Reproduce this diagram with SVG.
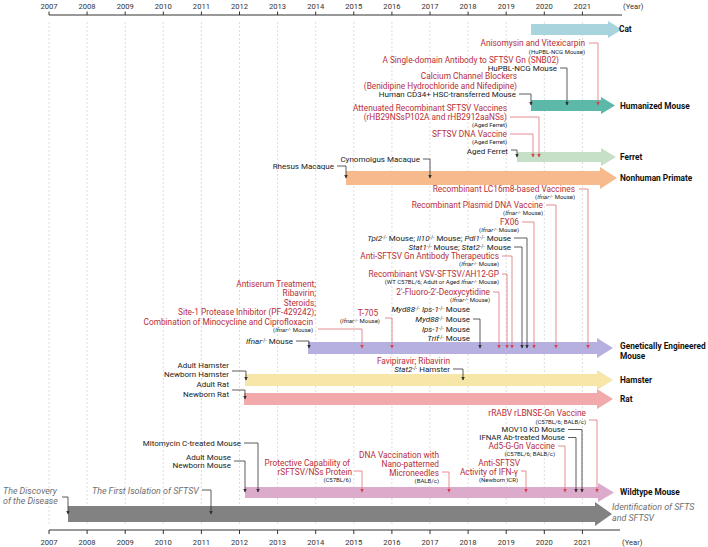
<svg xmlns="http://www.w3.org/2000/svg" width="708" height="547" viewBox="0 0 708 547">
<style>
text{font-family:Roboto,"Liberation Sans",sans-serif;font-size:8px;fill:#222}
.r{fill:#b82e3a;font-size:8.3px}
.s{font-size:6px;fill:#222}
.lb{font-weight:bold;font-size:8.3px;fill:#111}
.g{fill:#6e6e6e;font-style:italic;font-size:8.9px}
.yr{font-size:7.6px;fill:#333;text-anchor:middle}
.i{font-style:italic}
.sp{font-size:5px}
.sps{font-size:4.2px}
.e{text-anchor:end}
.cb{stroke:#333;stroke-width:0.8;fill:none;marker-end:url(#ab)}
.cr{stroke:#e0707a;stroke-width:0.8;fill:none;marker-end:url(#ar)}
.grid{stroke:#cfcfcf;stroke-width:0.7;stroke-dasharray:2 2}
.ax{stroke:#333;stroke-width:1;fill:none}
</style>
<defs>
<marker id="ab" viewBox="0 0 6 6" refX="5" refY="3" markerUnits="userSpaceOnUse" markerWidth="3.5" markerHeight="3.5" orient="auto"><path d="M0,0L6,3L0,6z" fill="#333"/></marker>
<marker id="ar" viewBox="0 0 6 6" refX="5" refY="3" markerUnits="userSpaceOnUse" markerWidth="3.5" markerHeight="3.5" orient="auto"><path d="M0,0L6,3L0,6z" fill="#d9404c"/></marker>
</defs>
<rect width="708" height="547" fill="#fff"/>
<g id="grid">
<path class="grid" d="M49,22V524M87.1,22V524M125.2,22V524M163.3,22V524M201.4,22V524M239.5,22V524M277.6,22V524M315.7,22V524M353.8,22V524M391.9,22V524M430,22V524M468.1,22V524M506.2,22V524M544.3,22V524M582.4,22V524"/>
</g>
<g id="axis-top">
<path class="ax" d="M49,15H622M49,11.5V15M87.1,11.5V15M125.2,11.5V15M163.3,11.5V15M201.4,11.5V15M239.5,11.5V15M277.6,11.5V15M315.7,11.5V15M353.8,11.5V15M391.9,11.5V15M430,11.5V15M468.1,11.5V15M506.2,11.5V15M544.3,11.5V15M582.4,11.5V15"/>
<text class="yr" x="49" y="9">2007</text><text class="yr" x="87.1" y="9">2008</text><text class="yr" x="125.2" y="9">2009</text><text class="yr" x="163.3" y="9">2010</text><text class="yr" x="201.4" y="9">2011</text><text class="yr" x="239.5" y="9">2012</text><text class="yr" x="277.6" y="9">2013</text><text class="yr" x="315.7" y="9">2014</text><text class="yr" x="353.8" y="9">2015</text><text class="yr" x="391.9" y="9">2016</text><text class="yr" x="430" y="9">2017</text><text class="yr" x="468.1" y="9">2018</text><text class="yr" x="506.2" y="9">2019</text><text class="yr" x="544.3" y="9">2020</text><text class="yr" x="582.4" y="9">2021</text>
<text x="623" y="9" style="font-size:7.6px;fill:#333">(Year)</text>
</g>
<g id="axis-bottom">
<path class="ax" d="M49,530H620M49,530V534M87.1,530V534M125.2,530V534M163.3,530V534M201.4,530V534M239.5,530V534M277.6,530V534M315.7,530V534M353.8,530V534M391.9,530V534M430,530V534M468.1,530V534M506.2,530V534M544.3,530V534M582.4,530V534"/>
<text class="yr" x="49" y="545">2007</text><text class="yr" x="87.1" y="545">2008</text><text class="yr" x="125.2" y="545">2009</text><text class="yr" x="163.3" y="545">2010</text><text class="yr" x="201.4" y="545">2011</text><text class="yr" x="239.5" y="545">2012</text><text class="yr" x="277.6" y="545">2013</text><text class="yr" x="315.7" y="545">2014</text><text class="yr" x="353.8" y="545">2015</text><text class="yr" x="391.9" y="545">2016</text><text class="yr" x="430" y="545">2017</text><text class="yr" x="468.1" y="545">2018</text><text class="yr" x="506.2" y="545">2019</text><text class="yr" x="544.3" y="545">2020</text><text class="yr" x="582.4" y="545">2021</text>
<text x="622" y="545" style="font-size:7.6px;fill:#333">(Year)</text>
</g>
<g id="cat"><path d="M531,24H608V21L622,29.5L608,38V35H531Z" fill="#a8d4de"/><text class="lb" x="619" y="32">Cat</text></g>
<g id="humanized"><path d="M531,100H601V97L615,105.5L601,114V111H531Z" fill="#5cb8a8"/><text class="lb" x="620" y="109">Humanized Mouse</text></g>
<g id="ferret"><path d="M517,152H601V148L616,157L601,166V162H517Z" fill="#c6e0c8"/><text class="lb" x="620" y="160">Ferret</text></g>
<g id="nhp"><path d="M346,171H600V167L617,178L600,189V185H346Z" fill="#f6ba8c"/><text class="lb" x="620" y="181">Nonhuman Primate</text></g>
<g id="gem"><path d="M308,342H597V338L613,348L597,358V354H308Z" fill="#b5b0e0"/><text class="lb" x="620" y="349">Genetically Engineered</text><text class="lb" x="620" y="359">Mouse</text></g>
<g id="hamster"><path d="M245,374H597V370L613,380L597,390V386H245Z" fill="#f6e6a8"/><text class="lb" x="620" y="383">Hamster</text></g>
<g id="rat"><path d="M244,393H597V389L613,399L597,409V405H244Z" fill="#f1a9ab"/><text class="lb" x="620" y="402">Rat</text></g>
<g id="wildtype"><path d="M245,487H598V483L614,492.5L598,502V498H245Z" fill="#dcaacb"/><text class="lb" x="620" y="495">Wildtype Mouse</text></g>
<g id="identification"><path d="M68,506H595V502L612,514L595,526V522H68Z" fill="#828282"/><text class="g" x="612" y="510">Identification of SFTS</text><text class="g" x="612" y="521">and SFTSV</text></g>

<g id="labels-humanized">
<text class="r e" x="585" y="46">Anisomysin and Vitexicarpin</text>
<text class="s e" x="585" y="54">(HuPBL-NCG Mouse)</text>
<text class="r e" x="559" y="63">A Single-domain Antibody to SFTSV Gn (SNB02)</text>
<text class="e" x="557" y="71">HuPBL-NCG Mouse</text>
<text class="r e" x="517" y="79">Calcium Channel Blockers</text>
<text class="r e" x="517" y="89">(Benidipine Hydrochloride and Nifedipine)</text>
<text class="e" x="516" y="97">Human CD34+ HSC-transferred Mouse</text>
</g>
<g id="labels-ferret">
<text class="r e" x="507" y="111">Attenuated Recombinant SFTSV Vaccines</text>
<text class="r e" x="507" y="120">(rHB29NSsP102A and rHB2912aaNSs)</text>
<text class="s e" x="507" y="127">(Aged Ferret)</text>
<text class="r e" x="507" y="137">SFTSV DNA Vaccine</text>
<text class="s e" x="507" y="143.5">(Aged Ferret)</text>
<text class="e" x="508" y="154">Aged Ferret</text>
</g>
<g id="labels-nhp">
<text class="e" x="420" y="162">Cynomolgus Macaque</text>
<text class="e" x="334" y="169">Rhesus Macaque</text>
</g>
<g id="labels-gem">
<text class="r e" x="575" y="192">Recombinant LC16m8-based Vaccines</text>
<text class="s e" x="575" y="199">(<tspan class="i">Ifnar</tspan><tspan class="sps" dy="-1.5">-/-</tspan><tspan dy="1.5"> Mouse)</tspan></text>
<text class="r e" x="543" y="208">Recombinant Plasmid DNA Vaccine</text>
<text class="s e" x="543" y="215">(<tspan class="i">Ifnar</tspan><tspan class="sps" dy="-1.5">-/-</tspan><tspan dy="1.5"> Mouse)</tspan></text>
<text class="r e" x="519" y="225">FX06</text>
<text class="s e" x="519" y="232">(<tspan class="i">Ifnar</tspan><tspan class="sps" dy="-1.5">-/-</tspan><tspan dy="1.5"> Mouse)</tspan></text>
<text class="e" x="511" y="241"><tspan class="i">Tpi2</tspan><tspan class="sp" dy="-2.5">-/-</tspan><tspan dy="2.5"> Mouse; </tspan><tspan class="i">Il10</tspan><tspan class="sp" dy="-2.5">-/-</tspan><tspan dy="2.5"> Mouse; </tspan><tspan class="i">Pdl1</tspan><tspan class="sp" dy="-2.5">-/-</tspan><tspan dy="2.5"> Mouse</tspan></text>
<text class="e" x="511" y="250"><tspan class="i">Stat1</tspan><tspan class="sp" dy="-2.5">-/-</tspan><tspan dy="2.5"> Mouse; </tspan><tspan class="i">Stat2</tspan><tspan class="sp" dy="-2.5">-/-</tspan><tspan dy="2.5"> Mouse</tspan></text>
<text class="r e" x="499" y="259">Anti-SFTSV Gn Antibody Therapeutics</text>
<text class="s e" x="499" y="266">(<tspan class="i">Ifnar</tspan><tspan class="sps" dy="-1.5">-/-</tspan><tspan dy="1.5"> Mouse)</tspan></text>
<text class="r e" x="499" y="277">Recombinant VSV-SFTSV/AH12-GP</text>
<text class="s e" x="499" y="284">(WT C57BL/6;  Adult or Aged <tspan class="i">Ifnar</tspan><tspan class="sps" dy="-1.5">-/-</tspan><tspan dy="1.5"> Mouse)</tspan></text>
<text class="r e" x="490" y="295">2'-Fluoro-2'-Deoxycytidine</text>
<text class="s e" x="490" y="302">(<tspan class="i">Ifnar</tspan><tspan class="sps" dy="-1.5">-/-</tspan><tspan dy="1.5"> Mouse)</tspan></text>
<text class="e" x="470" y="312"><tspan class="i">Myd88</tspan><tspan class="sp" dy="-2.5">-/-</tspan><tspan dy="2.5"> </tspan><tspan class="i">Ips-1</tspan><tspan class="sp" dy="-2.5">-/-</tspan><tspan dy="2.5"> Mouse</tspan></text>
<text class="e" x="470" y="322"><tspan class="i">Myd88</tspan><tspan class="sp" dy="-2.5">-/-</tspan><tspan dy="2.5"> Mouse</tspan></text>
<text class="e" x="470" y="332"><tspan class="i">Ips-1</tspan><tspan class="sp" dy="-2.5">-/-</tspan><tspan dy="2.5"> Mouse</tspan></text>
<text class="e" x="470" y="341"><tspan class="i">Trif</tspan><tspan class="sp" dy="-2.5">-/-</tspan><tspan dy="2.5"> Mouse</tspan></text>
<text class="r" x="368" y="316" text-anchor="middle">T-705</text>
<text class="s" x="360" y="323" text-anchor="middle">(<tspan class="i">Ifnar</tspan><tspan class="sps" dy="-1.5">-/-</tspan><tspan dy="1.5"> Mouse)</tspan></text>
<text class="r e" x="316" y="287">Antiserum Treatment;</text>
<text class="r e" x="316" y="296">Ribavirin;</text>
<text class="r e" x="316" y="306">Steroids;</text>
<text class="r e" x="316" y="315">Site-1 Protease Inhibitor (PF-429242);</text>
<text class="r e" x="313" y="325">Combination of Minocycline and Ciprofloxacin</text>
<text class="s e" x="313" y="332">(<tspan class="i">Ifnar</tspan><tspan class="sps" dy="-1.5">-/-</tspan><tspan dy="1.5"> Mouse)</tspan></text>
<text class="e" x="293" y="344"><tspan class="i">Ifnar</tspan><tspan class="sp" dy="-2.5">-/-</tspan><tspan dy="2.5"> Mouse</tspan></text>
</g>
<g id="labels-hamster-rat">
<text class="r e" x="450" y="364">Favipiravir; Ribavirin</text>
<text class="e" x="450" y="372"><tspan class="i">Stat2</tspan><tspan class="sp" dy="-2.5">-/-</tspan><tspan dy="2.5"> Hamster</tspan></text>
<text class="e" x="229" y="368">Adult Hamster</text>
<text class="e" x="229" y="377">Newborn Hamster</text>
<text class="e" x="229" y="387">Adult Rat</text>
<text class="e" x="229" y="397">Newborn Rat</text>
</g>
<g id="labels-wildtype">
<text class="r e" x="586" y="416">rRABV rLBNSE-Gn Vaccine</text>
<text class="s e" x="586" y="424">(C57BL/6; BALB/c)</text>
<text class="e" x="565" y="432" style="font-size:7.8px">MOV10 KD Mouse</text>
<text class="e" x="565" y="440" style="font-size:7.8px">IFNAR Ab-treated  Mouse</text>
<text class="r e" x="555" y="449">Ad5-G-Gn Vaccine</text>
<text class="s e" x="555" y="456">(C57BL/6; BALB/c)</text>
<text class="r e" x="520" y="466">Anti-SFTSV</text>
<text class="r e" x="518" y="475">Activity of IFN-γ</text>
<text class="s e" x="518" y="482">(Newborn ICR)</text>
<text class="r e" x="439" y="458">DNA Vaccination with</text>
<text class="r e" x="439" y="466.5">Nano-patterned</text>
<text class="r e" x="439" y="476">Microneedles</text>
<text class="s e" x="439" y="483">(BALB/c)</text>
<text class="r e" x="350" y="466">Protective Capability of</text>
<text class="r e" x="352" y="475">rSFTSV/NSs Protein</text>
<text class="s e" x="351" y="482">(C57BL/6)</text>
<text class="e" x="241" y="446">Mitomycin C-treated Mouse</text>
<text class="e" x="231" y="460">Adult  Mouse</text>
<text class="e" x="231" y="468">Newborn  Mouse</text>
</g>
<g id="labels-identification">
<text class="g" x="3" y="494">The Discovery</text>
<text class="g" x="3" y="504">of the Disease</text>
<text class="g" x="92" y="494">The First Isolation of SFTSV</text>
</g>
<g id="connectors">
<path class="cr" d="M589,43H598V105"/>
<path class="cb" d="M560,68H567V105"/>
<path class="cb" d="M519,94H531V105"/>
<path class="cr" d="M510,117H539V157"/>
<path class="cr" d="M510,134H533V157"/>
<path class="cb" d="M511,150H517V157"/>
<path class="cb" d="M423,159H430V178"/>
<path class="cb" d="M337,166H346V178"/>
<path class="cr" d="M579,189H588V348"/>
<path class="cr" d="M546,205H556V348"/>
<path class="cr" d="M522,222H534V348"/>
<path class="cb" d="M514,238H527V348"/>
<path class="cb" d="M514,247H522V348"/>
<path class="cr" d="M502,256H512V348"/>
<path class="cr" d="M502,274H507V348"/>
<path class="cr" d="M493,292H499V348"/>
<path class="cb" d="M473,319H480V348"/>
<path class="cr" d="M385,318H392V348"/>
<path class="cr" d="M318,329H362V348"/>
<path class="cb" d="M296,341H309V348"/>
<path class="cb" d="M453,369H463V380"/>
<path class="cb" d="M232,371H246V380"/>
<path class="cb" d="M232,390H245V399"/>
<path class="cr" d="M589,420H597V492"/>
<path class="cb" d="M568,429.5H582V492"/>
<path class="cb" d="M568,437.5H576V492"/>
<path class="cr" d="M558,446H565V492"/>
<path class="cr" d="M521,471H526V492"/>
<path class="cr" d="M442,472H449V492"/>
<path class="cr" d="M354,471H362V492"/>
<path class="cb" d="M244,443H258V492"/>
<path class="cb" d="M234,461H245V492"/>
<path class="cb" d="M62,497H68V514"/>
<path class="cb" d="M202,490H211V514"/>
</g>
</svg>
